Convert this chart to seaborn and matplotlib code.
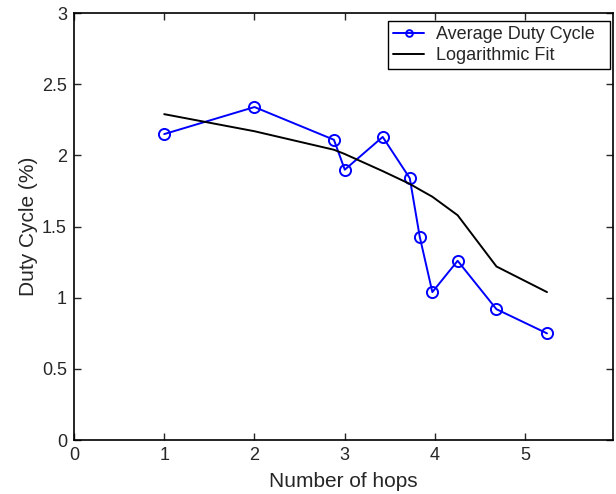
import matplotlib
matplotlib.use("Agg")
import matplotlib.pyplot as plt
import pandas as pd
import seaborn as sns

# values
hops = [1.0, 2.0, 2.88, 3.0, 3.42, 3.72, 3.83, 3.97, 4.25, 4.68, 5.24]
duty_avg = [2.15, 2.34, 2.11, 1.90, 2.13, 1.84, 1.43, 1.04, 1.26, 0.92, 0.75]
log_fit = [2.29, 2.17, 2.04, 2.01, 1.89, 1.80, 1.76, 1.71, 1.58, 1.22, 1.04]

df = pd.DataFrame({'hops': hops, 'avg': duty_avg, 'fit': log_fit})

sns.set_style('white')
plt.rcParams['font.family'] = ['Liberation Sans', 'DejaVu Sans']

fig = plt.figure(figsize=(6.16, 4.94), dpi=100)
ax = fig.add_axes([0.120, 0.109, 0.875, 0.8645])

# trailing spaces give the legend box the extra right margin seen in the original
sns.lineplot(data=df, x='hops', y='avg', ax=ax, color='#0000ff', lw=1.4,
             marker='o', markersize=8, markerfacecolor='none',
             markeredgecolor='#0000ff', markeredgewidth=1.4,
             label='Average Duty Cycle\u00a0\u00a0')
sns.lineplot(data=df, x='hops', y='fit', ax=ax, color='black', lw=1.4,
             label='Logarithmic Fit')

ax.set_xlim(0, 5.97)
ax.set_ylim(0, 3)
ax.set_xticks([0, 1, 2, 3, 4, 5])
ax.set_yticks([0, 0.5, 1, 1.5, 2, 2.5, 3])
ax.set_yticklabels(['0', '0.5', '1', '1.5', '2', '2.5', '3'])
ax.tick_params(direction='in', length=5, width=1, labelsize=13,
               top=True, right=True, bottom=True, left=True, pad=5)
for s in ax.spines.values():
    s.set_color('black')
    s.set_linewidth(1.2)

ax.set_xlabel('Number of hops', fontsize=15, labelpad=6)
ax.set_ylabel('Duty Cycle (%)', fontsize=15, labelpad=3)

leg = ax.legend(loc='upper right', bbox_to_anchor=(610 / 616, 1 - 21 / 494),
                bbox_transform=fig.transFigure, borderaxespad=0,
                fontsize=13, frameon=True, fancybox=False,
                edgecolor='black', framealpha=1, borderpad=0.3,
                handlelength=1.7, handletextpad=0.65, labelspacing=0.2,
                markerscale=0.6)
leg.get_frame().set_linewidth(1.0)

fig.savefig('out.png', dpi=100)
